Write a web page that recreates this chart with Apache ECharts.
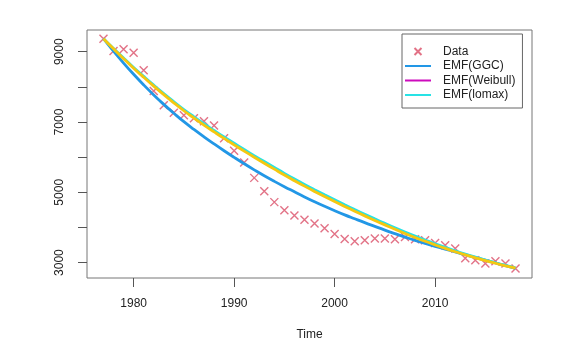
<!DOCTYPE html>
<html>
<head>
<meta charset="utf-8">
<script src="https://cdn.jsdelivr.net/npm/echarts@6/dist/echarts.min.js"></script>
<style>
  html, body { margin: 0; padding: 0; background: #fff; }
  #main { width: 569px; height: 353px; }
</style>
</head>
<body>
<div id="main"></div>
<script>
// years and observed values
var years = [1977, 1978, 1979, 1980, 1981, 1982, 1983, 1984, 1985, 1986,
             1987, 1988, 1989, 1990, 1991, 1992, 1993, 1994, 1995, 1996,
             1997, 1998, 1999, 2000, 2001, 2002, 2003, 2004, 2005, 2006,
             2007, 2008, 2009, 2010, 2011, 2012, 2013, 2014, 2015, 2016,
             2017, 2018];
var observed = [9370, 9020, 9070, 8970, 8470, 7880, 7480, 7260, 7190, 7110,
                7020, 6900, 6540, 6180, 5850, 5410, 5030, 4720, 4490, 4340,
                4220, 4110, 3975, 3810, 3670, 3610, 3635, 3685, 3685, 3665,
                3730, 3665, 3635, 3555, 3490, 3400, 3120, 3065, 2975, 3035,
                2975, 2830];
// fitted curves
var ggc = [9370, 9015, 8677, 8357, 8055, 7770, 7502, 7250, 7010, 6790,
           6580, 6378, 6183, 5995, 5813, 5638, 5470, 5312, 5160, 5014,
           4869, 4731, 4600, 4476, 4358, 4246, 4136, 4030, 3924, 3823,
           3725, 3630, 3545, 3463, 3383, 3303, 3224, 3146, 3068, 2990,
           2912, 2835];
var weibull = [9370, 9082, 8802, 8532, 8272, 8020, 7778, 7545, 7320, 7112,
               6912, 6720, 6532, 6350, 6172, 5998, 5827, 5658, 5490, 5330,
               5175, 5025, 4879, 4737, 4598, 4462, 4329, 4199, 4072, 3948,
               3829, 3715, 3606, 3502, 3403, 3309, 3220, 3136, 3056, 2981,
               2909, 2840];
var lomax = [9370, 9090, 8818, 8553, 8297, 8048, 7808, 7577, 7354, 7148,
             6950, 6760, 6574, 6394, 6217, 6044, 5874, 5705, 5538, 5378,
             5223, 5073, 4927, 4785, 4645, 4508, 4374, 4243, 4115, 3989,
             3868, 3752, 3641, 3535, 3434, 3337, 3245, 3158, 3074, 2995,
             2920, 2848];
// ticks
var xTicks = [1980, 1990, 2000, 2010];
var yTicks = [3000, 4000, 5000, 6000, 7000, 8000, 9000];
var yLabels = [3000, 5000, 7000, 9000];

function pairs(vals) {
    return years.map(function (y, i) { return [y, vals[i]]; });
}

var font = 'Liberation Sans, Arial, sans-serif';
var cross = 'path://M0,0L10,10M10,0L0,10';
var bar = 'path://M0,0H26V2H0Z'; // flat legend line

var chart = echarts.init(document.getElementById('main'), null, { renderer: 'canvas' });

chart.setOption({
    animation: false,
    backgroundColor: '#fff',
    grid: {
        left: 87, right: 37, top: 30, bottom: 75,
        show: true, borderColor: '#777', borderWidth: 1, backgroundColor: 'transparent'
    },
    xAxis: {
        type: 'value',
        min: 1975.36, max: 2019.64,
        name: 'Time',
        nameLocation: 'middle',
        nameGap: 51,
        nameTextStyle: { fontFamily: font, fontSize: 12, color: '#222' },
        axisLine: { show: false },
        splitLine: { show: false },
        axisTick: { show: true, length: 9, customValues: xTicks, lineStyle: { color: '#555' } },
        axisLabel: {
            customValues: xTicks, margin: 20, fontFamily: font, fontSize: 12, color: '#222',
            formatter: function (v) { return String(v); }
        }
    },
    yAxis: {
        type: 'value',
        min: 2561, max: 9618,
        axisLine: { show: false },
        splitLine: { show: false },
        axisTick: { show: true, length: 9, customValues: yTicks, lineStyle: { color: '#555' } },
        axisLabel: {
            customValues: yLabels, rotate: 90, margin: 21, fontFamily: font, fontSize: 12, color: '#222',
            formatter: function (v) { return String(v); }
        }
    },
    legend: {
        left: 402, top: 34,
        orient: 'vertical',
        padding: [11.5, 7, 7, 3],
        itemGap: 2.5,
        itemWidth: 26, itemHeight: 7,
        borderColor: '#666', borderWidth: 1,
        backgroundColor: '#fff',
        textStyle: { fontFamily: font, fontSize: 12, color: '#222', padding: [0, 0, 0, 7] },
        data: [
            { name: 'Data' },
            { name: 'EMF(GGC)', icon: bar, itemStyle: { color: '#2297E6', borderWidth: 0 } },
            { name: 'EMF(Weibull)', icon: bar, itemStyle: { color: '#CD0BBC', borderWidth: 0 } },
            { name: 'EMF(lomax)', icon: bar, itemStyle: { color: '#28E2E5', borderWidth: 0 } }
        ]
    },
    series: [
        {
            name: 'Data',
            type: 'scatter',
            symbol: cross,
            symbolSize: 8,
            itemStyle: { color: 'rgba(0,0,0,0)', borderColor: '#DB4F68', borderWidth: 1.4 },
            data: pairs(observed)
        },
        {
            name: 'EMF(GGC)',
            type: 'line',
            symbol: 'none',
            smooth: true,
            lineStyle: { color: '#2297E6', width: 2.8 },
            itemStyle: { color: '#2297E6' },
            data: pairs(ggc)
        },
        {
            name: 'EMF(lomax)',
            type: 'line',
            symbol: 'none',
            smooth: true,
            lineStyle: { color: '#28E2E5', width: 2.8 },
            itemStyle: { color: '#28E2E5' },
            data: pairs(lomax)
        },
        {
            name: 'EMF(Weibull)',
            type: 'line',
            symbol: 'none',
            smooth: true,
            lineStyle: { color: '#F5C710', width: 2.8 },
            itemStyle: { color: '#F5C710' },
            data: pairs(weibull)
        }
    ]
});
</script>
</body>
</html>
